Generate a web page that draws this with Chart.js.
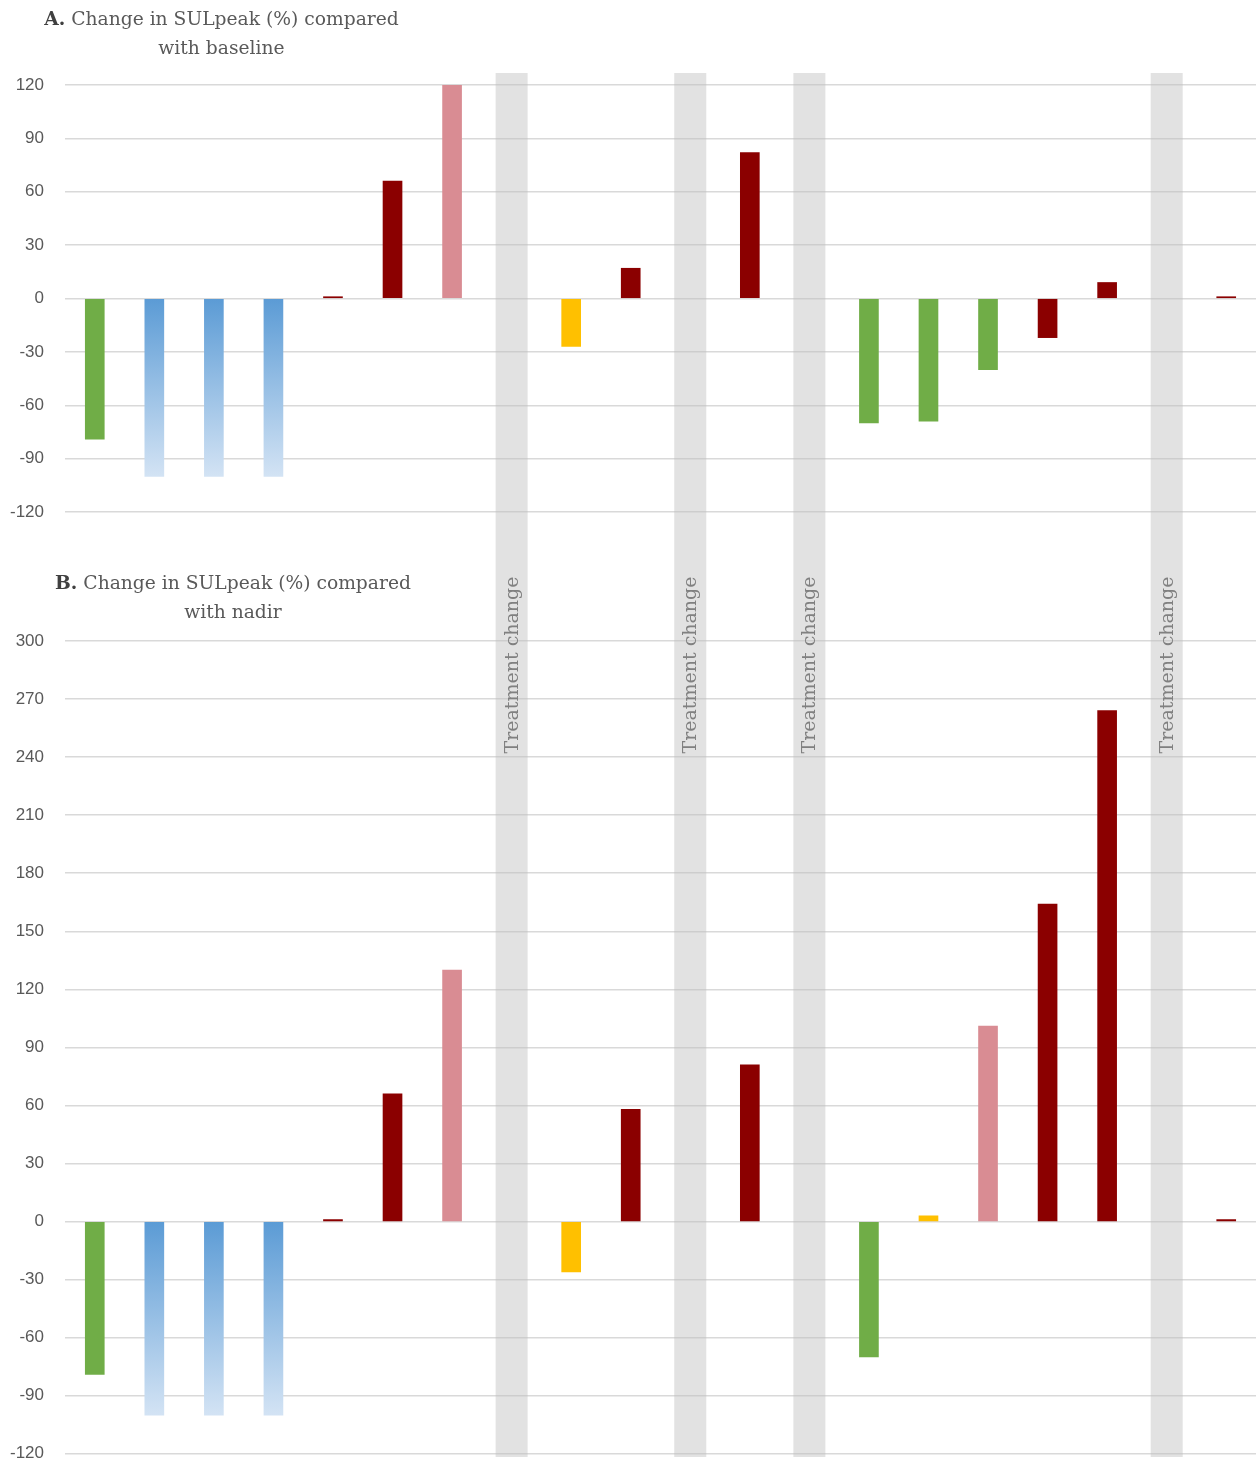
<!DOCTYPE html>
<html>
<head>
<meta charset="utf-8">
<script src="https://cdn.jsdelivr.net/npm/chart.js@4"></script>
<style>
  body { margin: 0; background: #fff; }
  #page { position: relative; width: 1256px; height: 1463px; overflow: hidden; }
  .panel { position: absolute; left: 0; line-height: 0; }
  .title { position: absolute; text-align: center; font-family: "DejaVu Serif", serif; font-size: 18.7px; line-height: 29px; color: #595959; }
  .title b { color: #404040; }
</style>
</head>
<body>
<div id="page">
  <div class="panel" style="top:0"><canvas id="chartA" width="1256" height="560"></canvas></div>
  <div class="panel" style="top:560px"><canvas id="chartB" width="1256" height="925"></canvas></div>
  <div class="title" style="left:0; top:4px; width:443px;"><b>A.</b> Change in SULpeak (%) compared<br>with baseline</div>
  <div class="title" style="left:0; top:568px; width:466px;"><b>B.</b> Change in SULpeak (%) compared<br>with nadir</div>
</div>
<script>
// patients in the order shown, grey slots are where treatment changed
const patients = ["1", "2", "3", "4", "5", "6", "7", "8", "9", "10",
                  "11", "12", "13", "14", "15", "16", "17", "18", "19", "20"];
const treatmentChange = ["8", "11", "13", "19"];
const bandLabel = "Treatment change";

const changeFromBaseline = [-79, -100, -100, -100, 1, 66, 120, null, -27, 17,
                            null, 82, null, -70, -69, -40, -22, 9, null, 1];
const changeFromNadir = [-79, -100, -100, -100, 1, 66, 130, null, -26, 58,
                         null, 81, null, -70, 3, 101, 164, 264, null, 1];

const ticksA = { min: -120, max: 120, step: 30 };
const ticksB = { min: -120, max: 300, step: 30 };

/* ================= STYLES ================= */

const GREEN = "#70AD47", RED = "#8B0000", PINK = "#D98C93", YELLOW = "#FFC000", BLUE = "gradient";

const colorsA = [GREEN, BLUE, BLUE, BLUE, RED, RED, PINK, null, YELLOW, RED,
                 null, RED, null, GREEN, GREEN, GREEN, RED, RED, null, RED];
const colorsB = [GREEN, BLUE, BLUE, BLUE, RED, RED, PINK, null, YELLOW, RED,
                 null, RED, null, GREEN, YELLOW, PINK, RED, RED, null, RED];

function barColor(colors) {
    return (ctx) => {
        const c = colors[ctx.dataIndex];
        if (c !== "gradient") return c;
        const chart = ctx.chart;
        const y = chart.scales.y;
        if (!chart.chartArea || !y || ctx.raw == null) return "#5B9BD5";
        const g = chart.ctx.createLinearGradient(0, y.getPixelForValue(0), 0, y.getPixelForValue(ctx.raw));
        g.addColorStop(0, "#5B9BD5");
        g.addColorStop(1, "#D3E3F4");
        return g;
    };
}

// grey "treatment change" columns, placed on the x scale
const bandsPlugin = {
    id: "bands",
    beforeDatasetsDraw(chart, args, opts) {
        const ctx = chart.ctx;
        const x = chart.scales.x;
        ctx.save();
        treatmentChange.forEach(label => {
            const px = x.getPixelForValue(patients.indexOf(label));
            ctx.fillStyle = "rgba(190,190,190,0.45)";
            ctx.fillRect(px - 16, opts.top, 32, opts.bottom - opts.top);
            if (opts.showLabel) {
                ctx.save();
                ctx.translate(px + 1, opts.labelY);
                ctx.rotate(-Math.PI / 2);
                ctx.font = "19px 'DejaVu Serif'";
                ctx.fillStyle = "#808080";
                ctx.textAlign = "center";
                ctx.textBaseline = "middle";
                ctx.fillText(bandLabel, 0, 0);
                ctx.restore();
            }
        });
        ctx.restore();
    }
};

function makeChart(id, values, colors, ticks, padding, bands) {
    return new Chart(document.getElementById(id), {
        type: "bar",
        data: {
            labels: patients,
            datasets: [{
                data: values,
                backgroundColor: barColor(colors),
                barThickness: 19
            }]
        },
        options: {
            responsive: false,
            animation: false,
            layout: { padding: padding },
            plugins: {
                legend: { display: false },
                tooltip: { enabled: false },
                bands: bands
            },
            scales: {
                x: { display: false },
                y: {
                    min: ticks.min,
                    max: ticks.max,
                    afterFit: (s) => { s.width = 65; },
                    border: { display: false },
                    grid: { color: "#d9d9d9", lineWidth: 1.5, drawTicks: false },
                    ticks: {
                        stepSize: ticks.step,
                        padding: 21,
                        color: "#595959",
                        font: { family: "'Liberation Sans'", size: 17 }
                    }
                }
            }
        },
        plugins: [bandsPlugin]
    });
}

makeChart("chartA", changeFromBaseline, colorsA, ticksA,
          { top: 85, bottom: 48, left: 0, right: 0 },
          { top: 73, bottom: 560, showLabel: false });
makeChart("chartB", changeFromNadir, colorsB, ticksB,
          { top: 81, bottom: 10, left: 0, right: 0 },
          { top: 0, bottom: 897, showLabel: true, labelY: 105 });
</script>
</body>
</html>
